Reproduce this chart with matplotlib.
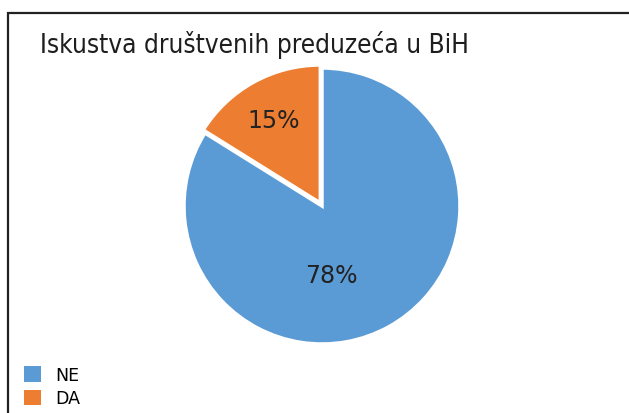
"""Pie chart: Iskustva drustvenih preduzeca u BiH."""

import matplotlib

matplotlib.use("Agg")
import matplotlib.pyplot as plt
from matplotlib.patches import Patch, Rectangle

labels = ["NE", "DA"]
values = [78, 15]
colors = ["#5B9BD5", "#ED7D31"]
title = "Iskustva društvenih preduzeća u BiH"

W, H = 629, 414
fig = plt.figure(figsize=(W / 100, H / 100), dpi=100)

# outer frame (cut off at right and bottom in the original)
fig.patches.append(Rectangle((8 / W, -0.1), 1.2, 1 - 14 / H + 0.1,
                             transform=fig.transFigure, fill=False,
                             edgecolor="#222222", lw=1.6, clip_on=False))

fig.text(40 / W, 1 - 53 / H, title, fontsize=18.8, color="#1e1e1e",
         family="DejaVu Sans", fontstretch="condensed", va="baseline")

cx, cy, r = 322, 207, 138
ax = fig.add_axes([(cx - r) / W, (H - cy - r) / H, 2 * r / W, 2 * r / H])
wedges, texts, autotexts = ax.pie(
    values, colors=colors, startangle=90, counterclock=False,
    explode=[0, 0.025], radius=1.0,
    autopct=lambda p: "", pctdistance=0.69,
    wedgeprops=dict(edgecolor="white", linewidth=2.5),
)
for t, v in zip(autotexts, values):
    t.set_text(f"{v}%")
    t.set_fontsize(17)
    t.set_color("#222222")
autotexts[0].set_position((0.07, -0.5))
ax.set_xlim(-1, 1)
ax.set_ylim(-1, 1)
ax.set_aspect("equal")

handles = [Patch(facecolor=c, edgecolor="none") for c in colors]
fig.legend(handles, labels, loc="lower left", bbox_to_anchor=(8 / W, -10 / H),
           frameon=False, fontsize=12.5, handlelength=1.0, handleheight=1.0,
           handletextpad=0.8, labelspacing=0.3)

fig.savefig("out.png", dpi=100)
